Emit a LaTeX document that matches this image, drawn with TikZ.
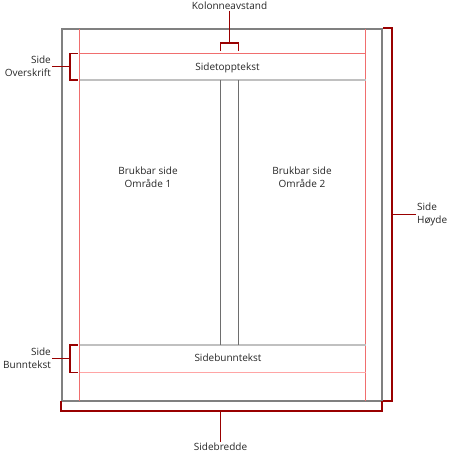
\documentclass[tikz,border=0pt]{standalone}
\usepackage{fontspec}
\setmainfont{Open Sans}
\usepackage{tikz}

\definecolor{bracketred}{RGB}{153,0,0}
\definecolor{pagegray}{RGB}{128,128,128}
\definecolor{margpink}{RGB}{240,110,110}
\definecolor{lightpink}{RGB}{255,165,165}
\definecolor{rulegray}{RGB}{192,192,192}
\definecolor{colgray}{RGB}{110,110,110}

\tikzset{
  bracket/.style={draw=bracketred, line width=1.8pt},
  lbl/.style={inner sep=1pt, text=black!85, font=\fontsize{10}{13}\selectfont},
}

\begin{document}
\begin{tikzpicture}[x=1pt,y=-1pt]
\useasboundingbox (0,0) rectangle (456,453);

% Page outline
\draw[pagegray, line width=1.8pt] (62,29) rectangle (382,401);

% Margins
\foreach \x in {79.5, 365.5}
    \draw[margpink, line width=1pt] (\x,29) -- (\x,401);
\draw[margpink, line width=1pt] (79.5,53.5) -- (365.5,53.5);
\draw[lightpink, line width=1pt] (79.5,372.5) -- (365.5,372.5);
\draw[rulegray, line width=1.6pt] (79.5,80) -- (365.5,80);
\draw[rulegray, line width=1.6pt] (79.5,345) -- (365.5,345);

% Column gap
\foreach \x in {220.5, 238.5}
    \draw[colgray, line width=0.8pt] (\x,80) -- (\x,345);

% Texts inside the page
\node[lbl] (topp) at (227.5,68) {Sidetopptekst};
\node[lbl] (bunn) at (228,358) {Sidebunntekst};
\node[lbl, align=center] (omr1) at (148,177) {Brukbar side\\Område 1};
\node[lbl, align=center] (omr2) at (302,177) {Brukbar side\\Område 2};

% Labels
\node[lbl] (kol) at (229.5,5.5) {Kolonneavstand};
\node[lbl, align=right, anchor=east] (over) at (52,66.5) {Side\\Overskrift};
\node[lbl, align=right, anchor=east] (bunnlbl) at (52,358.5) {Side\\Bunntekst};
\node[lbl, align=left, anchor=west] (hoyde) at (416,214.5) {Side\\Høyde};
\node[lbl] (bredde) at (220.5,447) {Sidebredde};

% Brackets
\draw[bracket] (220.5,51) -- (220.5,42.7) -- (238.5,42.7) -- (238.5,51);
\draw[bracket] (kol.south) -- (kol.south |- 0,42.7);
\draw[bracket] (77.5,53.5) -- (69.7,53.5) -- (69.7,80) -- (77.5,80);
\draw[bracket] (over.east) -- (over.east -| 69.7,0);
\draw[bracket] (77.5,345) -- (69.7,345) -- (69.7,372.5) -- (77.5,372.5);
\draw[bracket] (bunnlbl.east) -- (bunnlbl.east -| 69.7,0);
\draw[bracket] (383,28.3) -- (392.3,28.3) -- (392.3,400.7) -- (383,400.7);
\draw[bracket] (hoyde.west) -- (hoyde.west -| 392.3,0);
\draw[bracket] (61,401) -- (61,410.7) -- (382,410.7) -- (382,401);
\draw[bracket] (bredde.north) -- (bredde.north |- 0,410.7);

\end{tikzpicture}
\end{document}
